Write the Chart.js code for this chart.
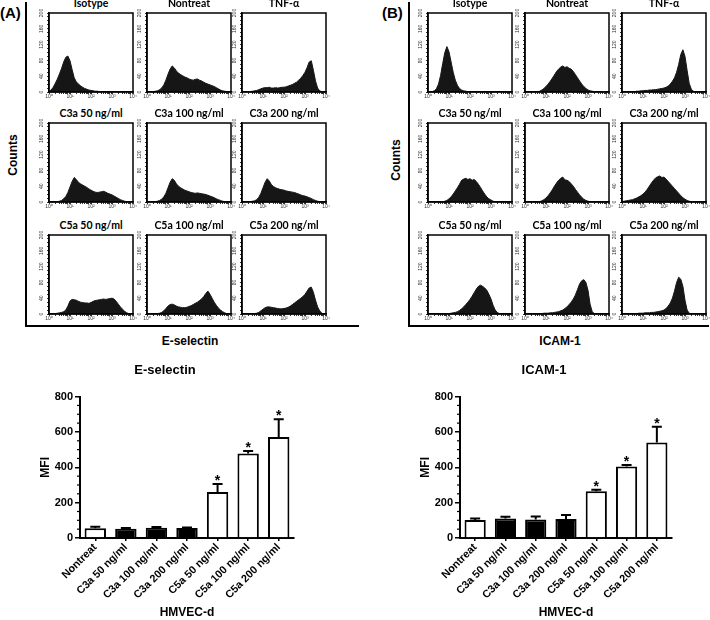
<!DOCTYPE html>
<html>
<head>
<meta charset="UTF-8">
<title>E-selectin and ICAM-1 expression</title>
<script src="https://cdn.jsdelivr.net/npm/chart.js@4.4.1/dist/chart.umd.min.js"></script>
<style>
  body { margin: 0; background: #fff; }
  #fig { position: relative; width: 710px; height: 620px; overflow: hidden; font-family: "Liberation Sans", Arial, sans-serif; color: #000; }
  #fig canvas { position: absolute; }
  .txt { position: absolute; white-space: nowrap; font-weight: bold; }
  .panel { position: absolute; font-size: 15px; font-weight: bold; }
  .frame { position: absolute; border-left: 2px solid #000; border-bottom: 2px solid #000; }
  .htitle { position: absolute; width: 110px; text-align: center; font-family: Lato, "Open Sans", sans-serif; font-size: 10.5px; font-weight: bold; line-height: 11px; white-space: nowrap; }
  .rot { transform: translate(-50%, -50%) rotate(-90deg); }
  .ctr { transform: translate(-50%, -50%); }
</style>
</head>
<body>
<div id="fig">
  <div class="panel" style="left:0;top:4px">(A)</div>
  <div class="panel" style="left:382px;top:4px">(B)</div>
  <div class="frame" style="left:25px;top:2px;width:332px;height:323px"></div>
  <div class="frame" style="left:408px;top:2px;width:299px;height:323px"></div>
  <div class="txt rot" style="left:13px;top:155px;font-size:12px">Counts</div>
  <div class="txt rot" style="left:396px;top:160px;font-size:12px">Counts</div>
  <div class="txt ctr" style="left:190px;top:341px;font-size:12px">E-selectin</div>
  <div class="txt ctr" style="left:560px;top:341px;font-size:12px">ICAM-1</div>
</div>
<script>
// histogram bins (log10 of fluorescence)
const binLog = [0.0, 0.1, 0.2, 0.3, 0.4, 0.5, 0.6, 0.7, 0.8, 0.9,
                1.0, 1.1, 1.2, 1.3, 1.4, 1.5, 1.6, 1.7, 1.8, 1.9,
                2.0, 2.1, 2.2, 2.3, 2.4, 2.5, 2.6, 2.7, 2.8, 2.9,
                3.0, 3.1, 3.2, 3.3, 3.4, 3.5, 3.6, 3.7, 3.8, 3.9, 4.0];
const decadeLabels = ['10⁰', '10¹', '10²', '10³', '10⁴'];
const countTicks = [0, 40, 80, 120, 160, 200];
const histTitles = ['Isotype', 'Nontreat', 'TNF-α',
                    'C3a 50 ng/ml', 'C3a 100 ng/ml', 'C3a 200 ng/ml',
                    'C5a 50 ng/ml', 'C5a 100 ng/ml', 'C5a 200 ng/ml'];

// E-selectin histograms (counts per bin)
const selIsotype  = [2,5,12,22,33,46,60,76,88,91, 79,57,36,26,20,16,12,9,7,5, 4,3,2,2,1,1,0,0,0,0, 0,0,0,0,0,0,0,0,0,0, 0];
const selNontreat = [0,0,1,1,2,3,6,10,18,30, 45,58,66,61,53,48,44,41,38,36, 33,31,30,32,33,30,28,25,22,20, 18,16,14,11,8,5,3,2,1,0, 0];
const selTnf      = [0,0,0,1,1,2,3,4,6,8, 10,11,11,12,10,10,11,10,11,12, 12,13,15,17,19,22,25,30,35,42, 50,62,76,79,55,28,10,3,1,0, 0];
const selC3a50    = [0,0,0,1,1,2,4,8,14,24, 38,52,62,57,50,46,43,40,37,33, 30,27,25,24,25,26,27,25,22,20, 18,15,12,9,6,4,2,1,0,0, 0];
const selC3a100   = [0,0,0,1,1,2,4,7,13,22, 36,50,59,55,46,40,36,33,30,28, 26,24,23,22,23,22,21,20,19,17, 15,13,11,8,6,4,2,1,0,0, 0];
const selC3a200   = [0,0,0,1,1,2,3,6,12,22, 36,50,59,53,44,39,36,34,32,31, 30,28,27,26,25,24,22,20,18,16, 15,13,11,9,6,4,2,1,0,0, 0];
const selC5a50    = [0,0,1,1,2,3,4,6,10,20, 33,37,36,35,32,30,29,28,28,27, 29,32,34,35,36,37,38,37,38,39, 40,38,32,25,18,12,7,3,1,0, 0];
const selC5a100   = [0,0,0,0,0,1,2,4,8,14, 20,24,25,23,20,18,17,16,16,17, 19,21,24,27,30,34,38,44,52,58, 50,40,30,22,15,10,6,3,1,0, 0];
const selC5a200   = [0,0,0,0,0,0,1,2,4,8, 12,16,18,18,17,16,15,14,13,13, 14,15,17,20,24,28,32,36,40,44, 50,58,66,68,55,35,18,8,2,0, 0];

// ICAM-1 histograms (counts per bin)
const icamIsotype  = [0,0,1,3,8,20,42,72,100,115, 102,76,50,30,17,9,5,3,2,1, 1,0,0,0,0,0,0,0,0,0, 0,0,0,0,0,0,0,0,0,0, 0];
const icamNontreat = [0,0,0,0,0,0,1,2,5,9, 14,20,27,35,43,52,58,63,66,62, 64,60,58,52,44,36,28,20,14,9, 5,3,2,1,0,0,0,0,0,0, 0];
const icamTnf      = [0,0,0,0,0,1,1,2,2,3, 3,4,4,5,5,6,6,7,8,9, 10,12,15,20,27,36,50,70,95,107, 90,55,22,7,2,0,0,0,0,0, 0];
const icamC3a50    = [0,0,0,0,0,0,0,0,2,4, 8,13,20,28,36,45,55,58,60,57, 59,55,57,52,45,37,28,20,13,8, 5,2,1,0,0,0,0,0,0,0, 0];
const icamC3a100   = [0,0,0,0,0,0,0,1,3,6, 10,16,23,31,40,48,55,60,63,56, 55,52,46,40,32,25,18,12,7,4, 2,1,0,0,0,0,0,0,0,0, 0];
const icamC3a200   = [1,2,3,4,5,6,8,10,13,16, 20,25,32,40,48,55,61,64,66,62, 63,58,52,46,40,34,28,22,16,11, 7,4,2,1,0,0,0,0,0,0, 0];
const icamC5a50    = [0,0,0,0,0,0,0,0,0,0, 1,2,3,4,6,9,13,18,24,30, 37,45,54,63,70,73,70,66,60,50, 38,22,10,4,1,0,0,0,0,0, 0];
const icamC5a100   = [0,0,0,0,0,1,1,1,1,2, 2,2,3,3,4,5,6,8,10,14, 18,24,30,38,48,62,76,84,87,80, 60,25,6,1,0,0,0,0,0,0, 0];
const icamC5a200   = [0,0,0,0,0,1,1,1,2,2, 2,3,3,3,4,4,5,6,7,8, 10,14,20,28,40,58,80,93,88,70, 35,10,2,0,0,0,0,0,0,0, 0];

// MFI bar charts
const barCategories = ['Nontreat', 'C3a 50 ng/ml', 'C3a 100 ng/ml', 'C3a 200 ng/ml',
                       'C5a 50 ng/ml', 'C5a 100 ng/ml', 'C5a 200 ng/ml'];
const selMfi  = [55, 52, 58, 57, 260, 478, 572];
const selSem  = [8, 4, 4, 3, 45, 14, 100];
const icamMfi = [102, 110, 104, 108, 265, 405, 540];
const icamSem = [8, 10, 18, 22, 8, 8, 90];
const starred = [false, false, false, false, true, true, true];
const mfiTicks = [0, 200, 400, 600, 800];

Chart.defaults.font.family = '"Liberation Sans", Arial, sans-serif';
Chart.defaults.color = '#000';

const fig = document.getElementById('fig');

function addCanvas(left, top, w, h) {
  const c = document.createElement('canvas');
  c.width = w;
  c.height = h;
  c.style.left = left + 'px';
  c.style.top = top + 'px';
  fig.appendChild(c);
  return c;
}

const logTicks = [];
for (let d = 0; d < 4; d++) {
  for (let k = 1; k < 10; k++) logTicks.push(k * Math.pow(10, d));
}
logTicks.push(10000);

const boxFrame = {
  id: 'boxFrame',
  afterDraw(chart) {
    const a = chart.chartArea, ctx = chart.ctx;
    ctx.save();
    ctx.strokeStyle = '#000';
    ctx.lineWidth = 1.5;
    ctx.strokeRect(a.left, a.top, a.right - a.left, a.bottom - a.top);
    ctx.restore();
  }
};

function histogram(canvas, counts) {
  return new Chart(canvas, {
    type: 'line',
    data: {
      datasets: [{
        data: binLog.map((e, i) => ({ x: Math.pow(10, e), y: counts[i] })),
        fill: 'origin',
        backgroundColor: '#161616',
        borderColor: '#161616',
        borderWidth: 1,
        pointRadius: 0,
        tension: 0
      }]
    },
    options: {
      responsive: false,
      animation: false,
      events: [],
      layout: { padding: { top: 1, right: 5, left: 0, bottom: 0 }, autoPadding: false },
      plugins: { legend: { display: false }, tooltip: { enabled: false } },
      scales: {
        x: {
          type: 'logarithmic',
          min: 1,
          max: 10000,
          afterBuildTicks: s => { s.ticks = logTicks.map(v => ({ value: v })); },
          afterFit: s => { s.height = 10; },
          ticks: {
            autoSkip: false, maxRotation: 0, padding: 0, color: '#333',
            font: { size: 5 },
            callback: v => {
              const e = Math.log10(v), r = Math.round(e);
              return Math.abs(e - r) < 1e-6 ? decadeLabels[r] : '';
            }
          },
          grid: { drawOnChartArea: false, tickLength: 2, color: '#000', lineWidth: 0.8 },
          border: { color: '#000', width: 1.5 }
        },
        y: {
          min: 0,
          max: 200,
          afterFit: s => { s.width = 14; },
          ticks: {
            stepSize: 10, autoSkip: false, minRotation: 90, maxRotation: 90,
            crossAlign: 'center', padding: 1, color: '#333',
            font: { size: 5 },
            callback: v => countTicks.includes(v) ? v : ''
          },
          grid: { drawOnChartArea: false, tickLength: 2, color: '#000', lineWidth: 0.8 },
          border: { color: '#000', width: 1.5 }
        }
      }
    },
    plugins: [boxFrame]
  });
}

function histogramGrid(colLeft, sets) {
  const rowTop = [10, 120, 232];
  sets.forEach((counts, i) => {
    const boxLeft = colLeft[i % 3], boxTop = rowTop[Math.floor(i / 3)];
    histogram(addCanvas(boxLeft - 14, boxTop - 1, 103, 93), counts);
    const t = document.createElement('div');
    t.className = 'htitle';
    t.textContent = histTitles[i];
    t.style.left = (boxLeft + 42 - 55) + 'px';
    t.style.top = (boxTop - 12) + 'px';
    fig.appendChild(t);
  });
}

histogramGrid([49, 147, 242], [selIsotype, selNontreat, selTnf, selC3a50, selC3a100, selC3a200, selC5a50, selC5a100, selC5a200]);
histogramGrid([428, 525, 622], [icamIsotype, icamNontreat, icamTnf, icamC3a50, icamC3a100, icamC3a200, icamC5a50, icamC5a100, icamC5a200]);

// error bars, stars and minor y ticks for the MFI charts
const barExtras = {
  id: 'barExtras',
  afterDatasetsDraw(chart) {
    const ctx = chart.ctx, ds = chart.data.datasets[0];
    const y = chart.scales.y, meta = chart.getDatasetMeta(0);
    ctx.save();
    ctx.strokeStyle = '#000';
    ctx.lineWidth = 2;
    meta.data.forEach((bar, i) => {
      const top = y.getPixelForValue(ds.data[i]);
      const errTop = y.getPixelForValue(ds.data[i] + ds.sem[i]);
      ctx.beginPath();
      ctx.moveTo(bar.x, top);
      ctx.lineTo(bar.x, errTop);
      ctx.moveTo(bar.x - 5, errTop);
      ctx.lineTo(bar.x + 5, errTop);
      ctx.stroke();
      if (ds.stars[i]) {
        ctx.fillStyle = '#000';
        ctx.font = 'bold 14px "Liberation Sans", Arial, sans-serif';
        ctx.textAlign = 'center';
        ctx.textBaseline = 'alphabetic';
        ctx.fillText('*', bar.x, errTop + 1);
      }
    });
    ctx.lineWidth = 1.2;
    for (let v = 50; v < 800; v += 50) {
      if (v % 200 === 0) continue;
      const py = y.getPixelForValue(v);
      ctx.beginPath();
      ctx.moveTo(y.right, py);
      ctx.lineTo(y.right - 3, py);
      ctx.stroke();
    }
    ctx.restore();
  }
};

function mfiChart(canvas, title, values, sem, padRight) {
  return new Chart(canvas, {
    type: 'bar',
    data: {
      labels: barCategories,
      datasets: [{
        data: values,
        sem: sem,
        stars: starred,
        backgroundColor: barCategories.map(c => c.startsWith('C3a') ? '#000' : '#fff'),
        borderColor: '#000',
        borderWidth: 2,
        barPercentage: 0.7,
        categoryPercentage: 1
      }]
    },
    options: {
      responsive: false,
      animation: false,
      events: [],
      layout: { padding: { top: 0, right: padRight, left: 0, bottom: 0 }, autoPadding: false },
      plugins: {
        legend: { display: false },
        tooltip: { enabled: false },
        title: {
          display: true, text: title, color: '#000',
          font: { size: 13, weight: 'bold' },
          padding: { top: 8, bottom: 18 }
        }
      },
      scales: {
        x: {
          afterFit: s => { s.height = 82; },
          ticks: {
            autoSkip: false, minRotation: 45, maxRotation: 45, padding: 0, color: '#000',
            font: { size: 10.8, weight: 'bold' }
          },
          grid: { drawOnChartArea: false, offset: false, tickLength: 3, color: '#000', lineWidth: 1.5 },
          border: { color: '#000', width: 2 },
          title: {
            display: true, text: 'HMVEC-d', color: '#000',
            font: { size: 12, weight: 'bold' },
            padding: { top: 0, bottom: 0 }
          }
        },
        y: {
          min: 0,
          max: 800,
          afterFit: s => { s.width = 44; },
          afterBuildTicks: s => { s.ticks = mfiTicks.map(v => ({ value: v })); },
          ticks: { padding: 2, color: '#000', font: { size: 11, weight: 'bold' } },
          grid: { drawOnChartArea: false, tickLength: 5, color: '#000', lineWidth: 1.5 },
          border: { color: '#000', width: 2 },
          title: {
            display: true, text: 'MFI', color: '#000',
            font: { size: 12, weight: 'bold' },
            padding: { top: 2, bottom: 0 }
          }
        }
      }
    },
    plugins: [barExtras]
  });
}

mfiChart(addCanvas(36, 355, 300, 265), 'E-selectin', selMfi, selSem, 42);
mfiChart(addCanvas(416, 355, 282, 265), 'ICAM-1', icamMfi, icamSem, 26);
</script>
</body>
</html>
